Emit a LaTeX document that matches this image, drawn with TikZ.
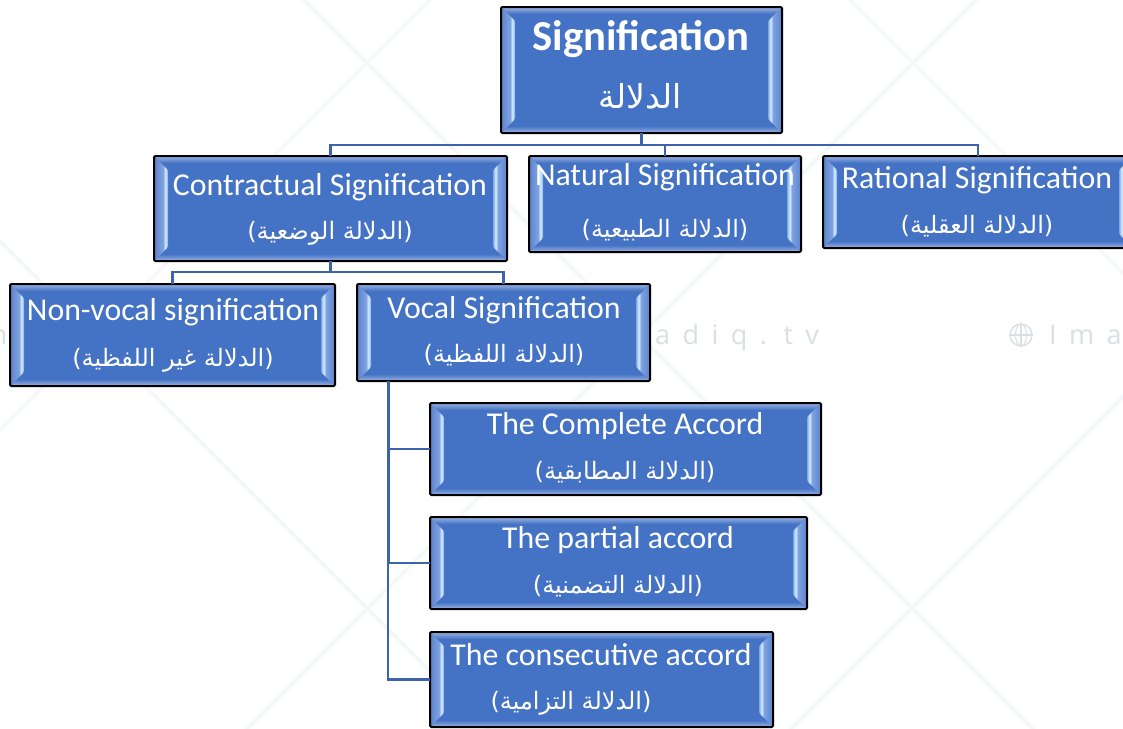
\documentclass[tikz,border=0pt]{standalone}
\usepackage{fontspec}
\setmainfont{Carlito}
\newfontfamily\arabicfont[Script=Arabic]{DejaVu Sans}
\newfontfamily\wmfont[LetterSpace=20]{Open Sans}
\TeXXeTstate=1
\usetikzlibrary{calc}
\definecolor{boxblue}{HTML}{4472C4}
\definecolor{linkblue}{HTML}{3C64AE}
\definecolor{wmline}{HTML}{F6F7F8}
\definecolor{wmtext}{HTML}{DADFE4}
\definecolor{bevA}{HTML}{5F86CE}
\definecolor{bevB}{HTML}{7FA3E0}
\definecolor{bevC}{HTML}{D6EDFF}
\definecolor{bevD}{HTML}{7FA8E6}
\definecolor{bevTop}{HTML}{9DB5E3}
\pgfdeclarehorizontalshading{bevleft}{100bp}{color(0bp)=(bevA); color(25bp)=(bevA); color(56bp)=(bevB); color(65bp)=(bevC); color(75bp)=(bevD); color(100bp)=(bevD)}
\pgfdeclarehorizontalshading{bevright}{100bp}{color(0bp)=(bevD); color(25bp)=(bevD); color(35bp)=(bevC); color(44bp)=(bevB); color(75bp)=(bevA); color(100bp)=(bevA)}
\newcommand{\arl}[1]{{\arabicfont\fontsize{24}{29}\selectfont\beginR #1\endR}}
\newcommand{\arlbig}[1]{{\arabicfont\fontsize{33}{40}\selectfont\beginR #1\endR}}
\tikzset{
  x=1pt,y=-1pt,
  bevelbox/.style={draw=black,line width=2pt,outer sep=0pt,rounded corners=1.2pt,fill=boxblue,inner sep=0pt,anchor=north west,
    path picture={
      \coordinate (pnw) at (path picture bounding box.north west);
      \coordinate (pne) at (path picture bounding box.north east);
      \coordinate (psw) at (path picture bounding box.south west);
      \coordinate (pse) at (path picture bounding box.south east);
      \shade[top color=bevTop,bottom color=boxblue] (pnw) -- (pne) -- ($(pne)+(-7,7)$) -- ($(pnw)+(7,7)$) -- cycle;
      \shade[top color=boxblue,bottom color=bevTop] (psw) -- (pse) -- ($(pse)+(-7,-7)$) -- ($(psw)+(7,-7)$) -- cycle;
      \shade[shading=bevleft] ($(pnw)+(1,1)$) -- ($(pnw)+(14,14)$) -- ($(psw)+(14,-14)$) -- ($(psw)+(1,-1)$) -- cycle;
      \shade[shading=bevright] ($(pne)+(-1,1)$) -- ($(pne)+(-14,14)$) -- ($(pse)+(-14,-14)$) -- ($(pse)+(-1,-1)$) -- cycle;
    }},
  boxtext/.style={text=white,inner sep=0pt,anchor=base,font=\fontsize{31.8}{38}\selectfont},
  boldtext/.style={text=white,inner sep=0pt,anchor=base,font=\fontsize{42.7}{50}\bfseries\selectfont},
  artext/.style={text=white,inner sep=0pt,anchor=base},
  link/.style={draw=linkblue,line width=2.2pt},
  trunk/.style={draw=linkblue,line width=3pt},
  wm/.style={draw=wmline,line width=3.6pt},
  wmlabel/.style={text=wmtext,inner sep=0pt,anchor=base west,font=\wmfont\fontsize{27}{32}\selectfont},
}
\begin{document}
\begin{tikzpicture}
\path[use as bounding box,clip] (0,0) rectangle (1123,728);
\fill[white] (0,0) rectangle (1123,728);
% watermark lattice
\foreach \c in {-241,304,850}{\draw[wm] ({\c-10},-10) -- ({\c+740},740);}
\foreach \c in {430,976,1520}{\draw[wm] ({\c+10},-10) -- ({\c-740},740);}
% watermark text
\node[wmlabel] (wma) at (655,344) {a d i q . t v};
\node[wmlabel] (wmb) at (1049,344) {I m a};
\node[wmlabel] (wmc) at (-18,344) {m};
\node[draw=wmtext,line width=1.4pt,circle,minimum size=22pt,inner sep=0pt] (globe) at (1021,335) {};
\draw[wmtext,line width=1.1pt] (globe.north) -- (globe.south) (globe.west) -- (globe.east);
\draw[wmtext,line width=1.1pt] (globe.center) ellipse [x radius=5.5,y radius=11];
% boxes
\node[bevelbox,minimum width=281pt,minimum height=126pt] (top) at (501,7) {};
\node[bevelbox,minimum width=353pt,minimum height=105pt] (contract) at (154,156) {};
\node[bevelbox,minimum width=272pt,minimum height=96pt] (natural) at (529,156) {};
\node[bevelbox,minimum width=310pt,minimum height=92pt] (rational) at (823,156) {};
\node[bevelbox,minimum width=325pt,minimum height=102pt] (nonvocal) at (10,284) {};
\node[bevelbox,minimum width=293pt,minimum height=97pt] (vocal) at (357,284) {};
\node[bevelbox,minimum width=391pt,minimum height=92pt] (complete) at (430,403) {};
\node[bevelbox,minimum width=377pt,minimum height=92pt] (partial) at (430,517) {};
\node[bevelbox,minimum width=343pt,minimum height=95pt] (consec) at (430,632) {};
\coordinate (vdrop) at ($(vocal.south west)+(31,0)$);
% connectors
\draw[link] (top.south) ++(0,12) coordinate (bus) -- ($(bus -| contract.north)$) -- (contract.north);
\draw[link] (bus) -- ($(bus -| rational.north)$) -- (rational.north);
\draw[link] ($(bus -| natural.north)$) -- (natural.north);
\draw[trunk] (top.south) -- (bus);
\draw[trunk] (contract.south) ++(0,11) coordinate (busb) (contract.south) -- (busb);
\draw[link] (nonvocal.north) -- ($(busb -| nonvocal.north)$) -- ($(busb -| vocal.north)$) -- (vocal.north);
\draw[trunk] (vdrop) -- ($(vdrop |- partial.west)$);
\draw[link] ($(vdrop |- partial.west)$) |- (consec.west);
\draw[link] ($(vdrop |- complete.west)$) -- (complete.west);
\draw[link] ($(vdrop |- partial.west)$) -- (partial.west);
% texts
\node[boldtext] (t1) at (641,50) {Signification};
\node[artext] (a1) at (640,108) {\arlbig{الدلالة}};
\node[boxtext] (t2) at (330,195) {Contractual Signification};
\node[artext] (a2) at (330,239) {\arl{(الدلالة الوضعية)}};
\node[boxtext] (t3) at (665,185) {Natural Signification};
\node[artext] (a3) at (665,237) {\arl{(الدلالة الطبيعية)}};
\node[boxtext] (t4) at (977,188) {Rational Signification};
\node[artext] (a4) at (977,233) {\arl{(الدلالة العقلية)}};
\node[boxtext] (t5) at (173,320) {Non-vocal signification};
\node[artext] (a5) at (173,366) {\arl{(الدلالة غير اللفظية)}};
\node[boxtext] (t6) at (504,318) {Vocal Signification};
\node[artext] (a6) at (504,362) {\arl{(الدلالة اللفظية)}};
\node[boxtext] (t7) at (625,434) {The Complete Accord};
\node[artext] (a7) at (625,479) {\arl{(الدلالة المطابقية)}};
\node[boxtext] (t8) at (618,548) {The partial accord};
\node[artext] (a8) at (618,593) {\arl{(الدلالة التضمنية)}};
\node[boxtext] (t9) at (601,665) {The consecutive accord};
\node[artext] (a9) at (571,709) {\arl{(الدلالة التزامية)}};
\end{tikzpicture}
\end{document}
